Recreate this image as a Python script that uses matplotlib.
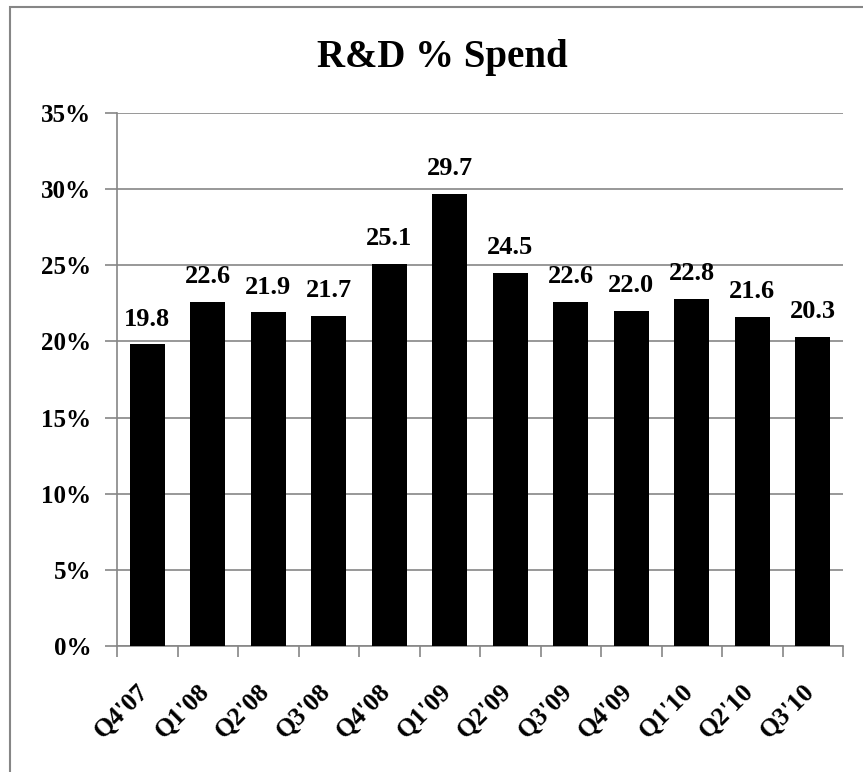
import matplotlib
matplotlib.use("Agg")
import matplotlib.pyplot as plt
from matplotlib.patches import Rectangle

categories = ["Q4'07", "Q1'08", "Q2'08", "Q3'08", "Q4'08", "Q1'09",
              "Q2'09", "Q3'09", "Q4'09", "Q1'10", "Q2'10", "Q3'10"]
values = [19.8, 22.6, 21.9, 21.7, 25.1, 29.7, 24.5, 22.6, 22.0, 22.8, 21.6, 20.3]
yticks = [0, 5, 10, 15, 20, 25, 30, 35]
title = "R&D % Spend"

FONT = "Liberation Serif"
GRAY = "#868686"

W, H = 863, 772
fig = plt.figure(figsize=(W / 100, H / 100), dpi=100)

# chart border (clipped at right/bottom like reference)
fig.patches.append(Rectangle((10 / W, -0.05), 1.1, 1 - 7 / H + 0.05,
                             transform=fig.transFigure, fill=False,
                             edgecolor=GRAY, linewidth=1.5))

ax = fig.add_axes([117 / W, 1 - 646 / H, (843 - 117) / W, (646 - 113) / H])
x = list(range(len(categories)))
ax.bar(x, values, width=0.58, color="black", zorder=3)
ax.set_xlim(-0.5, len(categories) - 0.5)
ax.set_ylim(0, 35)

ax.set_yticks(yticks)
ax.set_yticklabels([f"{t}%" for t in yticks], fontfamily=FONT,
                   fontweight="bold", fontsize=18)
ax.yaxis.grid(True, color=GRAY, linewidth=1.2, zorder=0)
ax.tick_params(axis="y", length=9, width=1.2, color=GRAY, pad=9.5)

# x ticks at category boundaries
ax.set_xticks([i - 0.5 for i in range(len(categories) + 1)])
ax.set_xticklabels([])
ax.tick_params(axis="x", length=8, width=1.2, color=GRAY)
for i, c in enumerate(categories):
    ax.annotate(c, xy=(i - 0.17, 0), xycoords=("data", "axes fraction"),
                xytext=(0, -24), textcoords="offset points",
                rotation=45, rotation_mode="anchor", ha="right", va="top",
                fontfamily=FONT, fontweight="bold", fontsize=18.5)

for s in ["top", "right"]:
    ax.spines[s].set_visible(False)
for s in ["left", "bottom"]:
    ax.spines[s].set_color(GRAY)
    ax.spines[s].set_linewidth(1.2)

for i, v in enumerate(values):
    ax.annotate(f"{v:.1f}", xy=(i, v), xytext=(0, 10), textcoords="offset points",
                ha="center", va="bottom", fontfamily=FONT, fontweight="bold",
                fontsize=19)

fig.text(442 / W, 1 - 67 / H, title, ha="center", va="baseline",
         fontfamily=FONT, fontweight="bold", fontsize=28)

fig.savefig("out.png", dpi=100)
